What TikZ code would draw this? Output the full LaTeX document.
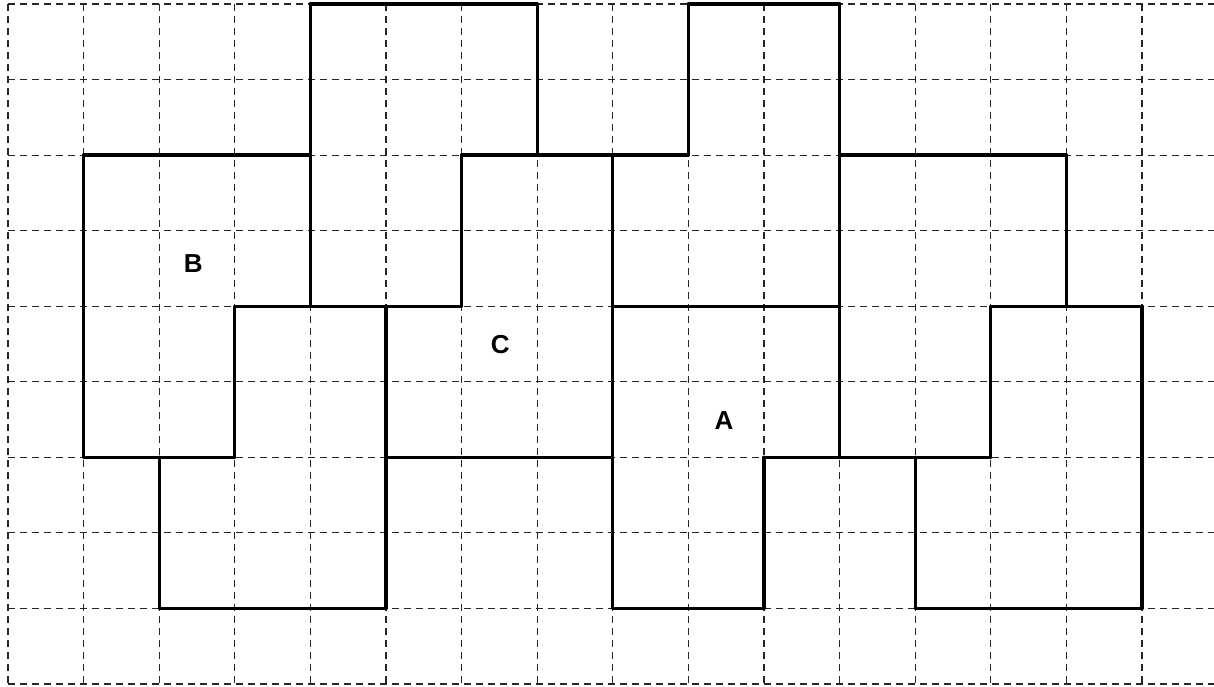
\documentclass[tikz,border=0pt]{standalone}
\usepackage{fontspec}
\setmainfont{Liberation Sans}
\begin{document}
\begin{tikzpicture}[x=1pt,y=-1pt,
  gridline/.style={line width=1.1pt, dash pattern=on 7pt off 5pt, draw=black!85},
  outline/.style={line width=3.3pt, line cap=round, line join=miter},
  lbl/.style={font=\bfseries\fontsize{26}{26}\selectfont}]
\useasboundingbox (0,0) rectangle (1214,687);
\begin{scope}[shift={(8,4)}, x=75.6pt, y=-75.556pt]
  % grid
  \foreach \j in {0,...,9} \draw[gridline] (0,\j) -- (15.95,\j);
  \foreach \i in {0,...,15} \draw[gridline] (\i,0) -- (\i,9);
  % thick outlines
  \draw[outline] (4,0) -- (7,0) (9,0) -- (11,0);
  \draw[outline] (1,2) -- (4,2) (6,2) -- (9,2) (11,2) -- (14,2);
  \draw[outline] (3,4) -- (6,4) (8,4) -- (11,4) (13,4) -- (15,4);
  \draw[outline] (1,6) -- (3,6) (5,6) -- (8,6) (10,6) -- (13,6);
  \draw[outline] (2,8) -- (5,8) (8,8) -- (10,8) (12,8) -- (15,8);
  \draw[outline] (1,2) -- (1,6) (2,6) -- (2,8) (3,4) -- (3,6) (4,0) -- (4,4)
    (5,4) -- (5,8) (6,2) -- (6,4) (7,0) -- (7,2) (8,2) -- (8,8)
    (9,0) -- (9,2) (10,6) -- (10,8) (11,0) -- (11,6) (12,6) -- (12,8)
    (13,4) -- (13,6) (14,2) -- (14,4) (15,4) -- (15,8);
  \node[lbl] (B) at (2.45,3.44) {B};
  \node[lbl] (C) at (6.51,4.51) {C};
  \node[lbl] (A) at (9.47,5.51) {A};
\end{scope}
\end{tikzpicture}
\end{document}
